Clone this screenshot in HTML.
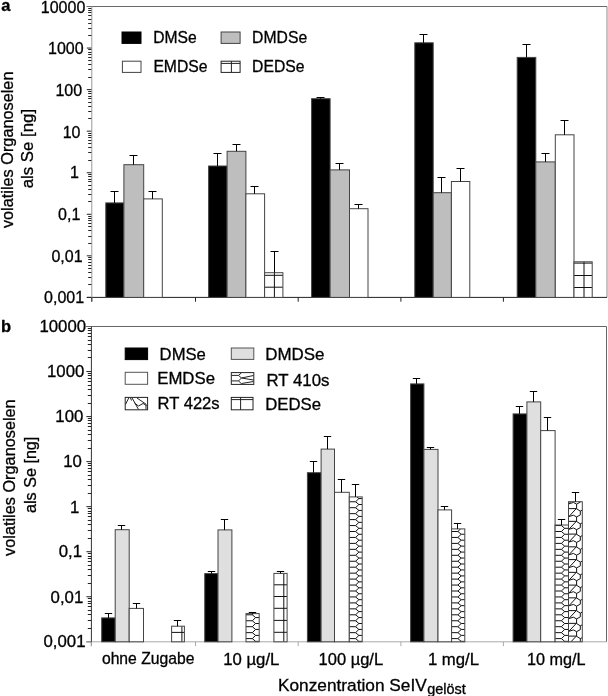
<!DOCTYPE html>
<html><head><meta charset="utf-8"><style>
html,body{margin:0;padding:0;background:#fff;}
body{width:608px;height:696px;overflow:hidden;}
svg{display:block;will-change:transform;font-family:"Liberation Sans", sans-serif;}
</style></head><body>
<svg width="608" height="696" viewBox="0 0 608 696" font-family='"Liberation Sans", sans-serif' fill="#000">

<line x1="88.2" y1="284.5" x2="91.8" y2="284.5" stroke="#222" stroke-width="1" />
<line x1="88.2" y1="277.5" x2="91.8" y2="277.5" stroke="#222" stroke-width="1" />
<line x1="88.2" y1="272.5" x2="91.8" y2="272.5" stroke="#222" stroke-width="1" />
<line x1="88.2" y1="268.5" x2="91.8" y2="268.5" stroke="#222" stroke-width="1" />
<line x1="88.2" y1="265.5" x2="91.8" y2="265.5" stroke="#222" stroke-width="1" />
<line x1="88.2" y1="262.5" x2="91.8" y2="262.5" stroke="#222" stroke-width="1" />
<line x1="88.2" y1="259.5" x2="91.8" y2="259.5" stroke="#222" stroke-width="1" />
<line x1="88.2" y1="257.5" x2="91.8" y2="257.5" stroke="#222" stroke-width="1" />
<line x1="88.2" y1="243.5" x2="91.8" y2="243.5" stroke="#222" stroke-width="1" />
<line x1="88.2" y1="236.5" x2="91.8" y2="236.5" stroke="#222" stroke-width="1" />
<line x1="88.2" y1="230.5" x2="91.8" y2="230.5" stroke="#222" stroke-width="1" />
<line x1="88.2" y1="226.5" x2="91.8" y2="226.5" stroke="#222" stroke-width="1" />
<line x1="88.2" y1="223.5" x2="91.8" y2="223.5" stroke="#222" stroke-width="1" />
<line x1="88.2" y1="220.5" x2="91.8" y2="220.5" stroke="#222" stroke-width="1" />
<line x1="88.2" y1="218.5" x2="91.8" y2="218.5" stroke="#222" stroke-width="1" />
<line x1="88.2" y1="216.5" x2="91.8" y2="216.5" stroke="#222" stroke-width="1" />
<line x1="88.2" y1="201.5" x2="91.8" y2="201.5" stroke="#222" stroke-width="1" />
<line x1="88.2" y1="194.5" x2="91.8" y2="194.5" stroke="#222" stroke-width="1" />
<line x1="88.2" y1="189.5" x2="91.8" y2="189.5" stroke="#222" stroke-width="1" />
<line x1="88.2" y1="185.5" x2="91.8" y2="185.5" stroke="#222" stroke-width="1" />
<line x1="88.2" y1="181.5" x2="91.8" y2="181.5" stroke="#222" stroke-width="1" />
<line x1="88.2" y1="179.5" x2="91.8" y2="179.5" stroke="#222" stroke-width="1" />
<line x1="88.2" y1="176.5" x2="91.8" y2="176.5" stroke="#222" stroke-width="1" />
<line x1="88.2" y1="174.5" x2="91.8" y2="174.5" stroke="#222" stroke-width="1" />
<line x1="88.2" y1="160.5" x2="91.8" y2="160.5" stroke="#222" stroke-width="1" />
<line x1="88.2" y1="152.5" x2="91.8" y2="152.5" stroke="#222" stroke-width="1" />
<line x1="88.2" y1="147.5" x2="91.8" y2="147.5" stroke="#222" stroke-width="1" />
<line x1="88.2" y1="143.5" x2="91.8" y2="143.5" stroke="#222" stroke-width="1" />
<line x1="88.2" y1="140.5" x2="91.8" y2="140.5" stroke="#222" stroke-width="1" />
<line x1="88.2" y1="137.5" x2="91.8" y2="137.5" stroke="#222" stroke-width="1" />
<line x1="88.2" y1="135.5" x2="91.8" y2="135.5" stroke="#222" stroke-width="1" />
<line x1="88.2" y1="133.5" x2="91.8" y2="133.5" stroke="#222" stroke-width="1" />
<line x1="88.2" y1="118.5" x2="91.8" y2="118.5" stroke="#222" stroke-width="1" />
<line x1="88.2" y1="111.5" x2="91.8" y2="111.5" stroke="#222" stroke-width="1" />
<line x1="88.2" y1="106.5" x2="91.8" y2="106.5" stroke="#222" stroke-width="1" />
<line x1="88.2" y1="102.5" x2="91.8" y2="102.5" stroke="#222" stroke-width="1" />
<line x1="88.2" y1="98.5" x2="91.8" y2="98.5" stroke="#222" stroke-width="1" />
<line x1="88.2" y1="96.5" x2="91.8" y2="96.5" stroke="#222" stroke-width="1" />
<line x1="88.2" y1="93.5" x2="91.8" y2="93.5" stroke="#222" stroke-width="1" />
<line x1="88.2" y1="91.5" x2="91.8" y2="91.5" stroke="#222" stroke-width="1" />
<line x1="88.2" y1="77.5" x2="91.8" y2="77.5" stroke="#222" stroke-width="1" />
<line x1="88.2" y1="69.5" x2="91.8" y2="69.5" stroke="#222" stroke-width="1" />
<line x1="88.2" y1="64.5" x2="91.8" y2="64.5" stroke="#222" stroke-width="1" />
<line x1="88.2" y1="60.5" x2="91.8" y2="60.5" stroke="#222" stroke-width="1" />
<line x1="88.2" y1="57.5" x2="91.8" y2="57.5" stroke="#222" stroke-width="1" />
<line x1="88.2" y1="54.5" x2="91.8" y2="54.5" stroke="#222" stroke-width="1" />
<line x1="88.2" y1="52.5" x2="91.8" y2="52.5" stroke="#222" stroke-width="1" />
<line x1="88.2" y1="49.5" x2="91.8" y2="49.5" stroke="#222" stroke-width="1" />
<line x1="88.2" y1="35.5" x2="91.8" y2="35.5" stroke="#222" stroke-width="1" />
<line x1="88.2" y1="28.5" x2="91.8" y2="28.5" stroke="#222" stroke-width="1" />
<line x1="88.2" y1="23.5" x2="91.8" y2="23.5" stroke="#222" stroke-width="1" />
<line x1="88.2" y1="19.5" x2="91.8" y2="19.5" stroke="#222" stroke-width="1" />
<line x1="88.2" y1="15.5" x2="91.8" y2="15.5" stroke="#222" stroke-width="1" />
<line x1="88.2" y1="12.5" x2="91.8" y2="12.5" stroke="#222" stroke-width="1" />
<line x1="88.2" y1="10.5" x2="91.8" y2="10.5" stroke="#222" stroke-width="1" />
<line x1="88.2" y1="8.5" x2="91.8" y2="8.5" stroke="#222" stroke-width="1" />
<line x1="86.8" y1="297.4" x2="91.8" y2="297.4" stroke="#222" stroke-width="1" />
<line x1="86.8" y1="255.84" x2="91.8" y2="255.84" stroke="#222" stroke-width="1" />
<line x1="86.8" y1="214.29" x2="91.8" y2="214.29" stroke="#222" stroke-width="1" />
<line x1="86.8" y1="172.73" x2="91.8" y2="172.73" stroke="#222" stroke-width="1" />
<line x1="86.8" y1="131.17" x2="91.8" y2="131.17" stroke="#222" stroke-width="1" />
<line x1="86.8" y1="89.61" x2="91.8" y2="89.61" stroke="#222" stroke-width="1" />
<line x1="86.8" y1="48.06" x2="91.8" y2="48.06" stroke="#222" stroke-width="1" />
<line x1="86.8" y1="6.5" x2="91.8" y2="6.5" stroke="#222" stroke-width="1" />
<line x1="86.8" y1="6.5" x2="607" y2="6.5" stroke="#6a6a6a" stroke-width="1" />
<line x1="607" y1="6.5" x2="607" y2="297.4" stroke="#8a8a8a" stroke-width="1" />
<line x1="86.8" y1="297.4" x2="607" y2="297.4" stroke="#222" stroke-width="1" />
<line x1="91.8" y1="6.5" x2="91.8" y2="301.7" stroke="#999" stroke-width="1" />
<line x1="91.8" y1="297.4" x2="91.8" y2="301.7" stroke="#222" stroke-width="1" />
<line x1="195.5" y1="297.4" x2="195.5" y2="301.7" stroke="#222" stroke-width="1" />
<line x1="298.2" y1="297.4" x2="298.2" y2="301.7" stroke="#222" stroke-width="1" />
<line x1="400.9" y1="297.4" x2="400.9" y2="301.7" stroke="#222" stroke-width="1" />
<line x1="503.4" y1="297.4" x2="503.4" y2="301.7" stroke="#222" stroke-width="1" />
<rect x="105.8" y="202.9" width="18.1" height="94.5" fill="#000"/>
<rect x="105.8" y="202.9" width="18.1" height="94.5" fill="none" stroke="#444" stroke-width="1"/>
<line x1="114.5" y1="191.5" x2="114.5" y2="202.9" stroke="#000" stroke-width="1" />
<line x1="110.5" y1="191.5" x2="118.5" y2="191.5" stroke="#000" stroke-width="1" />
<rect x="123.9" y="164.7" width="19.8" height="132.7" fill="#bebebe"/>
<rect x="123.9" y="164.7" width="19.8" height="132.7" fill="none" stroke="#444" stroke-width="1"/>
<line x1="133.5" y1="155.5" x2="133.5" y2="164.7" stroke="#000" stroke-width="1" />
<line x1="129.5" y1="155.5" x2="137.5" y2="155.5" stroke="#000" stroke-width="1" />
<rect x="143.7" y="198.9" width="18.6" height="98.5" fill="#fff"/>
<rect x="143.7" y="198.9" width="18.6" height="98.5" fill="none" stroke="#444" stroke-width="1"/>
<line x1="152.5" y1="191.5" x2="152.5" y2="198.9" stroke="#000" stroke-width="1" />
<line x1="148.5" y1="191.5" x2="156.5" y2="191.5" stroke="#000" stroke-width="1" />
<rect x="208.6" y="166" width="18.5" height="131.4" fill="#000"/>
<rect x="208.6" y="166" width="18.5" height="131.4" fill="none" stroke="#444" stroke-width="1"/>
<line x1="217.5" y1="153.5" x2="217.5" y2="166" stroke="#000" stroke-width="1" />
<line x1="213.5" y1="153.5" x2="221.5" y2="153.5" stroke="#000" stroke-width="1" />
<rect x="227.1" y="151.3" width="18.8" height="146.1" fill="#bebebe"/>
<rect x="227.1" y="151.3" width="18.8" height="146.1" fill="none" stroke="#444" stroke-width="1"/>
<line x1="236.5" y1="144.5" x2="236.5" y2="151.3" stroke="#000" stroke-width="1" />
<line x1="232.5" y1="144.5" x2="240.5" y2="144.5" stroke="#000" stroke-width="1" />
<rect x="245.9" y="193.8" width="18.7" height="103.6" fill="#fff"/>
<rect x="245.9" y="193.8" width="18.7" height="103.6" fill="none" stroke="#444" stroke-width="1"/>
<line x1="254.5" y1="186.5" x2="254.5" y2="193.8" stroke="#000" stroke-width="1" />
<line x1="250.5" y1="186.5" x2="258.5" y2="186.5" stroke="#000" stroke-width="1" />
<rect x="264.6" y="272.7" width="18.3" height="24.7" fill="#fff"/>
<clipPath id="c1"><rect x="264.6" y="272.7" width="18.3" height="24.7"/></clipPath>
<path clip-path="url(#c1)" d="M264.6,275.3H282.9M264.6,287.2H282.9M274.4,272.7V297.4" stroke="#111" stroke-width="1" fill="none"/>
<rect x="264.6" y="272.7" width="18.3" height="24.7" fill="none" stroke="#444" stroke-width="1"/>
<line x1="274.5" y1="251.5" x2="274.5" y2="272.7" stroke="#000" stroke-width="1" />
<line x1="270.5" y1="251.5" x2="278.5" y2="251.5" stroke="#000" stroke-width="1" />
<rect x="311.6" y="98.7" width="18.5" height="198.7" fill="#000"/>
<rect x="311.6" y="98.7" width="18.5" height="198.7" fill="none" stroke="#444" stroke-width="1"/>
<line x1="320.5" y1="97.5" x2="320.5" y2="98.7" stroke="#000" stroke-width="1" />
<line x1="316.5" y1="97.5" x2="324.5" y2="97.5" stroke="#000" stroke-width="1" />
<rect x="330.1" y="169.9" width="19.4" height="127.5" fill="#bebebe"/>
<rect x="330.1" y="169.9" width="19.4" height="127.5" fill="none" stroke="#444" stroke-width="1"/>
<line x1="339.5" y1="163.5" x2="339.5" y2="169.9" stroke="#000" stroke-width="1" />
<line x1="335.5" y1="163.5" x2="343.5" y2="163.5" stroke="#000" stroke-width="1" />
<rect x="349.5" y="208.7" width="18.5" height="88.7" fill="#fff"/>
<rect x="349.5" y="208.7" width="18.5" height="88.7" fill="none" stroke="#444" stroke-width="1"/>
<line x1="358.5" y1="204.5" x2="358.5" y2="208.7" stroke="#000" stroke-width="1" />
<line x1="354.5" y1="204.5" x2="362.5" y2="204.5" stroke="#000" stroke-width="1" />
<rect x="414.8" y="42.8" width="18.4" height="254.6" fill="#000"/>
<rect x="414.8" y="42.8" width="18.4" height="254.6" fill="none" stroke="#444" stroke-width="1"/>
<line x1="423.5" y1="34.5" x2="423.5" y2="42.8" stroke="#000" stroke-width="1" />
<line x1="419.5" y1="34.5" x2="427.5" y2="34.5" stroke="#000" stroke-width="1" />
<rect x="433.2" y="192.7" width="18.2" height="104.7" fill="#bebebe"/>
<rect x="433.2" y="192.7" width="18.2" height="104.7" fill="none" stroke="#444" stroke-width="1"/>
<line x1="441.5" y1="177.5" x2="441.5" y2="192.7" stroke="#000" stroke-width="1" />
<line x1="437.5" y1="177.5" x2="445.5" y2="177.5" stroke="#000" stroke-width="1" />
<rect x="451.4" y="181.5" width="18.4" height="115.9" fill="#fff"/>
<rect x="451.4" y="181.5" width="18.4" height="115.9" fill="none" stroke="#444" stroke-width="1"/>
<line x1="460.5" y1="168.5" x2="460.5" y2="181.5" stroke="#000" stroke-width="1" />
<line x1="456.5" y1="168.5" x2="464.5" y2="168.5" stroke="#000" stroke-width="1" />
<rect x="517.2" y="57.4" width="18.6" height="240" fill="#000"/>
<rect x="517.2" y="57.4" width="18.6" height="240" fill="none" stroke="#444" stroke-width="1"/>
<line x1="526.5" y1="44.5" x2="526.5" y2="57.4" stroke="#000" stroke-width="1" />
<line x1="522.5" y1="44.5" x2="530.5" y2="44.5" stroke="#000" stroke-width="1" />
<rect x="535.8" y="161.9" width="19.5" height="135.5" fill="#bebebe"/>
<rect x="535.8" y="161.9" width="19.5" height="135.5" fill="none" stroke="#444" stroke-width="1"/>
<line x1="545.5" y1="153.5" x2="545.5" y2="161.9" stroke="#000" stroke-width="1" />
<line x1="541.5" y1="153.5" x2="549.5" y2="153.5" stroke="#000" stroke-width="1" />
<rect x="555.3" y="134.8" width="18.7" height="162.6" fill="#fff"/>
<rect x="555.3" y="134.8" width="18.7" height="162.6" fill="none" stroke="#444" stroke-width="1"/>
<line x1="564.5" y1="120.5" x2="564.5" y2="134.8" stroke="#000" stroke-width="1" />
<line x1="560.5" y1="120.5" x2="568.5" y2="120.5" stroke="#000" stroke-width="1" />
<rect x="574" y="261.8" width="18.2" height="35.6" fill="#fff"/>
<clipPath id="c2"><rect x="574" y="261.8" width="18.2" height="35.6"/></clipPath>
<path clip-path="url(#c2)" d="M574,263.1H592.2M574,275.5H592.2M574,287.5H592.2M584,261.8V297.4" stroke="#111" stroke-width="1" fill="none"/>
<rect x="574" y="261.8" width="18.2" height="35.6" fill="none" stroke="#444" stroke-width="1"/>
<rect x="122" y="32" width="19" height="11.4" fill="#000" stroke="#000" stroke-width="1"/>
<rect x="221.1" y="32" width="19" height="11.4" fill="#bebebe" stroke="#444" stroke-width="1"/>
<rect x="122.4" y="61.2" width="18.6" height="11.2" fill="#fff" stroke="#444" stroke-width="1"/>
<rect x="221.1" y="61.2" width="19" height="11.2" fill="#fff" stroke="#222" stroke-width="1"/>
<line x1="231.4" y1="61.2" x2="231.4" y2="72.4" stroke="#222" stroke-width="1" />
<line x1="221.1" y1="63.4" x2="240.1" y2="63.4" stroke="#222" stroke-width="1" />
<line x1="87.8" y1="628.5" x2="91.4" y2="628.5" stroke="#222" stroke-width="1" />
<line x1="87.8" y1="620.5" x2="91.4" y2="620.5" stroke="#222" stroke-width="1" />
<line x1="87.8" y1="614.5" x2="91.4" y2="614.5" stroke="#222" stroke-width="1" />
<line x1="87.8" y1="610.5" x2="91.4" y2="610.5" stroke="#222" stroke-width="1" />
<line x1="87.8" y1="606.5" x2="91.4" y2="606.5" stroke="#222" stroke-width="1" />
<line x1="87.8" y1="603.5" x2="91.4" y2="603.5" stroke="#222" stroke-width="1" />
<line x1="87.8" y1="601.5" x2="91.4" y2="601.5" stroke="#222" stroke-width="1" />
<line x1="87.8" y1="598.5" x2="91.4" y2="598.5" stroke="#222" stroke-width="1" />
<line x1="87.8" y1="583.5" x2="91.4" y2="583.5" stroke="#222" stroke-width="1" />
<line x1="87.8" y1="575.5" x2="91.4" y2="575.5" stroke="#222" stroke-width="1" />
<line x1="87.8" y1="569.5" x2="91.4" y2="569.5" stroke="#222" stroke-width="1" />
<line x1="87.8" y1="565.5" x2="91.4" y2="565.5" stroke="#222" stroke-width="1" />
<line x1="87.8" y1="561.5" x2="91.4" y2="561.5" stroke="#222" stroke-width="1" />
<line x1="87.8" y1="558.5" x2="91.4" y2="558.5" stroke="#222" stroke-width="1" />
<line x1="87.8" y1="556.5" x2="91.4" y2="556.5" stroke="#222" stroke-width="1" />
<line x1="87.8" y1="553.5" x2="91.4" y2="553.5" stroke="#222" stroke-width="1" />
<line x1="87.8" y1="538.5" x2="91.4" y2="538.5" stroke="#222" stroke-width="1" />
<line x1="87.8" y1="530.5" x2="91.4" y2="530.5" stroke="#222" stroke-width="1" />
<line x1="87.8" y1="524.5" x2="91.4" y2="524.5" stroke="#222" stroke-width="1" />
<line x1="87.8" y1="520.5" x2="91.4" y2="520.5" stroke="#222" stroke-width="1" />
<line x1="87.8" y1="516.5" x2="91.4" y2="516.5" stroke="#222" stroke-width="1" />
<line x1="87.8" y1="513.5" x2="91.4" y2="513.5" stroke="#222" stroke-width="1" />
<line x1="87.8" y1="511.5" x2="91.4" y2="511.5" stroke="#222" stroke-width="1" />
<line x1="87.8" y1="508.5" x2="91.4" y2="508.5" stroke="#222" stroke-width="1" />
<line x1="87.8" y1="493.5" x2="91.4" y2="493.5" stroke="#222" stroke-width="1" />
<line x1="87.8" y1="485.5" x2="91.4" y2="485.5" stroke="#222" stroke-width="1" />
<line x1="87.8" y1="479.5" x2="91.4" y2="479.5" stroke="#222" stroke-width="1" />
<line x1="87.8" y1="475.5" x2="91.4" y2="475.5" stroke="#222" stroke-width="1" />
<line x1="87.8" y1="471.5" x2="91.4" y2="471.5" stroke="#222" stroke-width="1" />
<line x1="87.8" y1="468.5" x2="91.4" y2="468.5" stroke="#222" stroke-width="1" />
<line x1="87.8" y1="465.5" x2="91.4" y2="465.5" stroke="#222" stroke-width="1" />
<line x1="87.8" y1="463.5" x2="91.4" y2="463.5" stroke="#222" stroke-width="1" />
<line x1="87.8" y1="448.5" x2="91.4" y2="448.5" stroke="#222" stroke-width="1" />
<line x1="87.8" y1="440.5" x2="91.4" y2="440.5" stroke="#222" stroke-width="1" />
<line x1="87.8" y1="434.5" x2="91.4" y2="434.5" stroke="#222" stroke-width="1" />
<line x1="87.8" y1="430.5" x2="91.4" y2="430.5" stroke="#222" stroke-width="1" />
<line x1="87.8" y1="426.5" x2="91.4" y2="426.5" stroke="#222" stroke-width="1" />
<line x1="87.8" y1="423.5" x2="91.4" y2="423.5" stroke="#222" stroke-width="1" />
<line x1="87.8" y1="420.5" x2="91.4" y2="420.5" stroke="#222" stroke-width="1" />
<line x1="87.8" y1="418.5" x2="91.4" y2="418.5" stroke="#222" stroke-width="1" />
<line x1="87.8" y1="403.5" x2="91.4" y2="403.5" stroke="#222" stroke-width="1" />
<line x1="87.8" y1="395.5" x2="91.4" y2="395.5" stroke="#222" stroke-width="1" />
<line x1="87.8" y1="389.5" x2="91.4" y2="389.5" stroke="#222" stroke-width="1" />
<line x1="87.8" y1="385.5" x2="91.4" y2="385.5" stroke="#222" stroke-width="1" />
<line x1="87.8" y1="381.5" x2="91.4" y2="381.5" stroke="#222" stroke-width="1" />
<line x1="87.8" y1="378.5" x2="91.4" y2="378.5" stroke="#222" stroke-width="1" />
<line x1="87.8" y1="375.5" x2="91.4" y2="375.5" stroke="#222" stroke-width="1" />
<line x1="87.8" y1="373.5" x2="91.4" y2="373.5" stroke="#222" stroke-width="1" />
<line x1="87.8" y1="357.5" x2="91.4" y2="357.5" stroke="#222" stroke-width="1" />
<line x1="87.8" y1="350.5" x2="91.4" y2="350.5" stroke="#222" stroke-width="1" />
<line x1="87.8" y1="344.5" x2="91.4" y2="344.5" stroke="#222" stroke-width="1" />
<line x1="87.8" y1="340.5" x2="91.4" y2="340.5" stroke="#222" stroke-width="1" />
<line x1="87.8" y1="336.5" x2="91.4" y2="336.5" stroke="#222" stroke-width="1" />
<line x1="87.8" y1="333.5" x2="91.4" y2="333.5" stroke="#222" stroke-width="1" />
<line x1="87.8" y1="330.5" x2="91.4" y2="330.5" stroke="#222" stroke-width="1" />
<line x1="87.8" y1="328.5" x2="91.4" y2="328.5" stroke="#222" stroke-width="1" />
<line x1="86.4" y1="641.8" x2="91.4" y2="641.8" stroke="#222" stroke-width="1" />
<line x1="86.4" y1="596.76" x2="91.4" y2="596.76" stroke="#222" stroke-width="1" />
<line x1="86.4" y1="551.71" x2="91.4" y2="551.71" stroke="#222" stroke-width="1" />
<line x1="86.4" y1="506.67" x2="91.4" y2="506.67" stroke="#222" stroke-width="1" />
<line x1="86.4" y1="461.63" x2="91.4" y2="461.63" stroke="#222" stroke-width="1" />
<line x1="86.4" y1="416.59" x2="91.4" y2="416.59" stroke="#222" stroke-width="1" />
<line x1="86.4" y1="371.54" x2="91.4" y2="371.54" stroke="#222" stroke-width="1" />
<line x1="86.4" y1="326.5" x2="91.4" y2="326.5" stroke="#222" stroke-width="1" />
<line x1="86.4" y1="326.5" x2="606.5" y2="326.5" stroke="#666" stroke-width="1" />
<line x1="606.5" y1="326.5" x2="606.5" y2="641.8" stroke="#666" stroke-width="1" />
<line x1="86.4" y1="641.8" x2="606.5" y2="641.8" stroke="#aaa" stroke-width="1" />
<line x1="91.4" y1="326.5" x2="91.4" y2="646.1" stroke="#333" stroke-width="1" />
<line x1="91.4" y1="641.8" x2="91.4" y2="646.1" stroke="#aaa" stroke-width="1" />
<line x1="195.5" y1="641.8" x2="195.5" y2="646.1" stroke="#aaa" stroke-width="1" />
<line x1="298.2" y1="641.8" x2="298.2" y2="646.1" stroke="#aaa" stroke-width="1" />
<line x1="400.9" y1="641.8" x2="400.9" y2="646.1" stroke="#aaa" stroke-width="1" />
<line x1="503.4" y1="641.8" x2="503.4" y2="646.1" stroke="#aaa" stroke-width="1" />
<rect x="101.7" y="617.9" width="13.5" height="23.9" fill="#000"/>
<rect x="101.7" y="617.9" width="13.5" height="23.9" fill="none" stroke="#444" stroke-width="1"/>
<line x1="108.5" y1="613.5" x2="108.5" y2="617.9" stroke="#000" stroke-width="1" />
<line x1="104.8" y1="613.5" x2="112.2" y2="613.5" stroke="#000" stroke-width="1" />
<rect x="115.2" y="529.7" width="14" height="112.1" fill="#dfdfdf"/>
<rect x="115.2" y="529.7" width="14" height="112.1" fill="none" stroke="#444" stroke-width="1"/>
<line x1="121.5" y1="525.5" x2="121.5" y2="529.7" stroke="#000" stroke-width="1" />
<line x1="117.8" y1="525.5" x2="125.2" y2="525.5" stroke="#000" stroke-width="1" />
<rect x="129.2" y="608.4" width="14.3" height="33.4" fill="#fff"/>
<rect x="129.2" y="608.4" width="14.3" height="33.4" fill="none" stroke="#444" stroke-width="1"/>
<line x1="136.5" y1="603.5" x2="136.5" y2="608.4" stroke="#000" stroke-width="1" />
<line x1="132.8" y1="603.5" x2="140.2" y2="603.5" stroke="#000" stroke-width="1" />
<rect x="171.6" y="626.2" width="12.8" height="15.6" fill="#fff"/>
<clipPath id="c3"><rect x="171.6" y="626.2" width="12.8" height="15.6"/></clipPath>
<path clip-path="url(#c3)" d="M171.6,632.4H184.4M181.9,626.2V641.8" stroke="#111" stroke-width="1" fill="none"/>
<rect x="171.6" y="626.2" width="12.8" height="15.6" fill="none" stroke="#444" stroke-width="1"/>
<line x1="177.5" y1="620.5" x2="177.5" y2="626.2" stroke="#000" stroke-width="1" />
<line x1="173.8" y1="620.5" x2="181.2" y2="620.5" stroke="#000" stroke-width="1" />
<rect x="204.75" y="573.6" width="13.25" height="68.2" fill="#000"/>
<rect x="204.75" y="573.6" width="13.25" height="68.2" fill="none" stroke="#444" stroke-width="1"/>
<line x1="211.5" y1="571.5" x2="211.5" y2="573.6" stroke="#000" stroke-width="1" />
<line x1="207.8" y1="571.5" x2="215.2" y2="571.5" stroke="#000" stroke-width="1" />
<rect x="218" y="529.9" width="13.9" height="111.9" fill="#dfdfdf"/>
<rect x="218" y="529.9" width="13.9" height="111.9" fill="none" stroke="#444" stroke-width="1"/>
<line x1="224.5" y1="519.5" x2="224.5" y2="529.9" stroke="#000" stroke-width="1" />
<line x1="220.8" y1="519.5" x2="228.2" y2="519.5" stroke="#000" stroke-width="1" />
<rect x="246" y="613.6" width="13.2" height="28.2" fill="#fff"/>
<clipPath id="c4"><rect x="246" y="613.6" width="13.2" height="28.2"/></clipPath>
<path clip-path="url(#c4)" d="M252.3,602.9L255.6,605.65L252.3,608.85L255.6,611.6L252.3,614.8L255.6,617.55L252.3,620.75L255.6,623.5L252.3,626.7L255.6,629.45L252.3,632.65L255.6,635.4L252.3,638.6L255.6,641.35L252.3,644.55L255.6,647.3L252.3,650.5L255.6,653.25M246,602.9H252.3M255.6,605.65H259.2M246,608.85H252.3M255.6,611.6H259.2M246,614.8H252.3M255.6,617.55H259.2M246,620.75H252.3M255.6,623.5H259.2M246,626.7H252.3M255.6,629.45H259.2M246,632.65H252.3M255.6,635.4H259.2M246,638.6H252.3M255.6,641.35H259.2M246,644.55H252.3M255.6,647.3H259.2M246,650.5H252.3M255.6,653.25H259.2" stroke="#111" stroke-width="1" fill="none"/>
<rect x="246" y="613.6" width="13.2" height="28.2" fill="none" stroke="#444" stroke-width="1"/>
<line x1="252.5" y1="612.5" x2="252.5" y2="613.6" stroke="#000" stroke-width="1" />
<line x1="248.8" y1="612.5" x2="256.2" y2="612.5" stroke="#000" stroke-width="1" />
<rect x="273.9" y="573.4" width="13.2" height="68.4" fill="#fff"/>
<clipPath id="c5"><rect x="273.9" y="573.4" width="13.2" height="68.4"/></clipPath>
<path clip-path="url(#c5)" d="M273.9,584.8H287.1M273.9,596.5H287.1M273.9,608.3H287.1M273.9,620.4H287.1M273.9,632.3H287.1M283.8,573.4V641.8" stroke="#111" stroke-width="1" fill="none"/>
<rect x="273.9" y="573.4" width="13.2" height="68.4" fill="none" stroke="#444" stroke-width="1"/>
<line x1="280.5" y1="571.5" x2="280.5" y2="573.4" stroke="#000" stroke-width="1" />
<line x1="276.8" y1="571.5" x2="284.2" y2="571.5" stroke="#000" stroke-width="1" />
<rect x="307.4" y="472.7" width="13.7" height="169.1" fill="#000"/>
<rect x="307.4" y="472.7" width="13.7" height="169.1" fill="none" stroke="#444" stroke-width="1"/>
<line x1="313.5" y1="461.5" x2="313.5" y2="472.7" stroke="#000" stroke-width="1" />
<line x1="309.8" y1="461.5" x2="317.2" y2="461.5" stroke="#000" stroke-width="1" />
<rect x="321.1" y="449.1" width="13.4" height="192.7" fill="#dfdfdf"/>
<rect x="321.1" y="449.1" width="13.4" height="192.7" fill="none" stroke="#444" stroke-width="1"/>
<line x1="327.5" y1="436.5" x2="327.5" y2="449.1" stroke="#000" stroke-width="1" />
<line x1="323.8" y1="436.5" x2="331.2" y2="436.5" stroke="#000" stroke-width="1" />
<rect x="334.5" y="492.3" width="14.8" height="149.5" fill="#fff"/>
<rect x="334.5" y="492.3" width="14.8" height="149.5" fill="none" stroke="#444" stroke-width="1"/>
<line x1="341.5" y1="479.5" x2="341.5" y2="492.3" stroke="#000" stroke-width="1" />
<line x1="337.8" y1="479.5" x2="345.2" y2="479.5" stroke="#000" stroke-width="1" />
<rect x="349.3" y="496.9" width="12.9" height="144.9" fill="#fff"/>
<clipPath id="c6"><rect x="349.3" y="496.9" width="12.9" height="144.9"/></clipPath>
<path clip-path="url(#c6)" d="M355.6,489.85L358.9,492.6L355.6,495.8L358.9,498.55L355.6,501.75L358.9,504.5L355.6,507.7L358.9,510.45L355.6,513.65L358.9,516.4L355.6,519.6L358.9,522.35L355.6,525.55L358.9,528.3L355.6,531.5L358.9,534.25L355.6,537.45L358.9,540.2L355.6,543.4L358.9,546.15L355.6,549.35L358.9,552.1L355.6,555.3L358.9,558.05L355.6,561.25L358.9,564L355.6,567.2L358.9,569.95L355.6,573.15L358.9,575.9L355.6,579.1L358.9,581.85L355.6,585.05L358.9,587.8L355.6,591L358.9,593.75L355.6,596.95L358.9,599.7L355.6,602.9L358.9,605.65L355.6,608.85L358.9,611.6L355.6,614.8L358.9,617.55L355.6,620.75L358.9,623.5L355.6,626.7L358.9,629.45L355.6,632.65L358.9,635.4L355.6,638.6L358.9,641.35L355.6,644.55L358.9,647.3L355.6,650.5L358.9,653.25M349.3,489.85H355.6M358.9,492.6H362.2M349.3,495.8H355.6M358.9,498.55H362.2M349.3,501.75H355.6M358.9,504.5H362.2M349.3,507.7H355.6M358.9,510.45H362.2M349.3,513.65H355.6M358.9,516.4H362.2M349.3,519.6H355.6M358.9,522.35H362.2M349.3,525.55H355.6M358.9,528.3H362.2M349.3,531.5H355.6M358.9,534.25H362.2M349.3,537.45H355.6M358.9,540.2H362.2M349.3,543.4H355.6M358.9,546.15H362.2M349.3,549.35H355.6M358.9,552.1H362.2M349.3,555.3H355.6M358.9,558.05H362.2M349.3,561.25H355.6M358.9,564H362.2M349.3,567.2H355.6M358.9,569.95H362.2M349.3,573.15H355.6M358.9,575.9H362.2M349.3,579.1H355.6M358.9,581.85H362.2M349.3,585.05H355.6M358.9,587.8H362.2M349.3,591H355.6M358.9,593.75H362.2M349.3,596.95H355.6M358.9,599.7H362.2M349.3,602.9H355.6M358.9,605.65H362.2M349.3,608.85H355.6M358.9,611.6H362.2M349.3,614.8H355.6M358.9,617.55H362.2M349.3,620.75H355.6M358.9,623.5H362.2M349.3,626.7H355.6M358.9,629.45H362.2M349.3,632.65H355.6M358.9,635.4H362.2M349.3,638.6H355.6M358.9,641.35H362.2M349.3,644.55H355.6M358.9,647.3H362.2M349.3,650.5H355.6M358.9,653.25H362.2" stroke="#111" stroke-width="1" fill="none"/>
<rect x="349.3" y="496.9" width="12.9" height="144.9" fill="none" stroke="#444" stroke-width="1"/>
<line x1="355.5" y1="484.5" x2="355.5" y2="496.9" stroke="#000" stroke-width="1" />
<line x1="351.8" y1="484.5" x2="359.2" y2="484.5" stroke="#000" stroke-width="1" />
<rect x="410.6" y="383.9" width="13.3" height="257.9" fill="#000"/>
<rect x="410.6" y="383.9" width="13.3" height="257.9" fill="none" stroke="#444" stroke-width="1"/>
<line x1="416.5" y1="378.5" x2="416.5" y2="383.9" stroke="#000" stroke-width="1" />
<line x1="412.8" y1="378.5" x2="420.2" y2="378.5" stroke="#000" stroke-width="1" />
<rect x="423.9" y="449.4" width="14.1" height="192.4" fill="#dfdfdf"/>
<rect x="423.9" y="449.4" width="14.1" height="192.4" fill="none" stroke="#444" stroke-width="1"/>
<line x1="430.5" y1="447.5" x2="430.5" y2="449.4" stroke="#000" stroke-width="1" />
<line x1="426.8" y1="447.5" x2="434.2" y2="447.5" stroke="#000" stroke-width="1" />
<rect x="438" y="509.9" width="13.6" height="131.9" fill="#fff"/>
<rect x="438" y="509.9" width="13.6" height="131.9" fill="none" stroke="#444" stroke-width="1"/>
<line x1="444.5" y1="506.5" x2="444.5" y2="509.9" stroke="#000" stroke-width="1" />
<line x1="440.8" y1="506.5" x2="448.2" y2="506.5" stroke="#000" stroke-width="1" />
<rect x="451.6" y="528.9" width="13.2" height="112.9" fill="#fff"/>
<clipPath id="c7"><rect x="451.6" y="528.9" width="13.2" height="112.9"/></clipPath>
<path clip-path="url(#c7)" d="M457.9,519.6L461.2,522.35L457.9,525.55L461.2,528.3L457.9,531.5L461.2,534.25L457.9,537.45L461.2,540.2L457.9,543.4L461.2,546.15L457.9,549.35L461.2,552.1L457.9,555.3L461.2,558.05L457.9,561.25L461.2,564L457.9,567.2L461.2,569.95L457.9,573.15L461.2,575.9L457.9,579.1L461.2,581.85L457.9,585.05L461.2,587.8L457.9,591L461.2,593.75L457.9,596.95L461.2,599.7L457.9,602.9L461.2,605.65L457.9,608.85L461.2,611.6L457.9,614.8L461.2,617.55L457.9,620.75L461.2,623.5L457.9,626.7L461.2,629.45L457.9,632.65L461.2,635.4L457.9,638.6L461.2,641.35L457.9,644.55L461.2,647.3L457.9,650.5L461.2,653.25M451.6,519.6H457.9M461.2,522.35H464.8M451.6,525.55H457.9M461.2,528.3H464.8M451.6,531.5H457.9M461.2,534.25H464.8M451.6,537.45H457.9M461.2,540.2H464.8M451.6,543.4H457.9M461.2,546.15H464.8M451.6,549.35H457.9M461.2,552.1H464.8M451.6,555.3H457.9M461.2,558.05H464.8M451.6,561.25H457.9M461.2,564H464.8M451.6,567.2H457.9M461.2,569.95H464.8M451.6,573.15H457.9M461.2,575.9H464.8M451.6,579.1H457.9M461.2,581.85H464.8M451.6,585.05H457.9M461.2,587.8H464.8M451.6,591H457.9M461.2,593.75H464.8M451.6,596.95H457.9M461.2,599.7H464.8M451.6,602.9H457.9M461.2,605.65H464.8M451.6,608.85H457.9M461.2,611.6H464.8M451.6,614.8H457.9M461.2,617.55H464.8M451.6,620.75H457.9M461.2,623.5H464.8M451.6,626.7H457.9M461.2,629.45H464.8M451.6,632.65H457.9M461.2,635.4H464.8M451.6,638.6H457.9M461.2,641.35H464.8M451.6,644.55H457.9M461.2,647.3H464.8M451.6,650.5H457.9M461.2,653.25H464.8" stroke="#111" stroke-width="1" fill="none"/>
<rect x="451.6" y="528.9" width="13.2" height="112.9" fill="none" stroke="#444" stroke-width="1"/>
<line x1="457.5" y1="523.5" x2="457.5" y2="528.9" stroke="#000" stroke-width="1" />
<line x1="453.8" y1="523.5" x2="461.2" y2="523.5" stroke="#000" stroke-width="1" />
<rect x="513.1" y="413.9" width="13.8" height="227.9" fill="#000"/>
<rect x="513.1" y="413.9" width="13.8" height="227.9" fill="none" stroke="#444" stroke-width="1"/>
<line x1="519.5" y1="406.5" x2="519.5" y2="413.9" stroke="#000" stroke-width="1" />
<line x1="515.8" y1="406.5" x2="523.2" y2="406.5" stroke="#000" stroke-width="1" />
<rect x="526.9" y="401.9" width="13.8" height="239.9" fill="#dfdfdf"/>
<rect x="526.9" y="401.9" width="13.8" height="239.9" fill="none" stroke="#444" stroke-width="1"/>
<line x1="533.5" y1="391.5" x2="533.5" y2="401.9" stroke="#000" stroke-width="1" />
<line x1="529.8" y1="391.5" x2="537.2" y2="391.5" stroke="#000" stroke-width="1" />
<rect x="540.7" y="430.6" width="14.4" height="211.2" fill="#fff"/>
<rect x="540.7" y="430.6" width="14.4" height="211.2" fill="none" stroke="#444" stroke-width="1"/>
<line x1="547.5" y1="417.5" x2="547.5" y2="430.6" stroke="#000" stroke-width="1" />
<line x1="543.8" y1="417.5" x2="551.2" y2="417.5" stroke="#000" stroke-width="1" />
<rect x="555.1" y="525" width="13.4" height="116.8" fill="#fff"/>
<clipPath id="c8"><rect x="555.1" y="525" width="13.4" height="116.8"/></clipPath>
<path clip-path="url(#c8)" d="M561.4,513.65L564.7,516.4L561.4,519.6L564.7,522.35L561.4,525.55L564.7,528.3L561.4,531.5L564.7,534.25L561.4,537.45L564.7,540.2L561.4,543.4L564.7,546.15L561.4,549.35L564.7,552.1L561.4,555.3L564.7,558.05L561.4,561.25L564.7,564L561.4,567.2L564.7,569.95L561.4,573.15L564.7,575.9L561.4,579.1L564.7,581.85L561.4,585.05L564.7,587.8L561.4,591L564.7,593.75L561.4,596.95L564.7,599.7L561.4,602.9L564.7,605.65L561.4,608.85L564.7,611.6L561.4,614.8L564.7,617.55L561.4,620.75L564.7,623.5L561.4,626.7L564.7,629.45L561.4,632.65L564.7,635.4L561.4,638.6L564.7,641.35L561.4,644.55L564.7,647.3L561.4,650.5L564.7,653.25M555.1,513.65H561.4M564.7,516.4H568.5M555.1,519.6H561.4M564.7,522.35H568.5M555.1,525.55H561.4M564.7,528.3H568.5M555.1,531.5H561.4M564.7,534.25H568.5M555.1,537.45H561.4M564.7,540.2H568.5M555.1,543.4H561.4M564.7,546.15H568.5M555.1,549.35H561.4M564.7,552.1H568.5M555.1,555.3H561.4M564.7,558.05H568.5M555.1,561.25H561.4M564.7,564H568.5M555.1,567.2H561.4M564.7,569.95H568.5M555.1,573.15H561.4M564.7,575.9H568.5M555.1,579.1H561.4M564.7,581.85H568.5M555.1,585.05H561.4M564.7,587.8H568.5M555.1,591H561.4M564.7,593.75H568.5M555.1,596.95H561.4M564.7,599.7H568.5M555.1,602.9H561.4M564.7,605.65H568.5M555.1,608.85H561.4M564.7,611.6H568.5M555.1,614.8H561.4M564.7,617.55H568.5M555.1,620.75H561.4M564.7,623.5H568.5M555.1,626.7H561.4M564.7,629.45H568.5M555.1,632.65H561.4M564.7,635.4H568.5M555.1,638.6H561.4M564.7,641.35H568.5M555.1,644.55H561.4M564.7,647.3H568.5M555.1,650.5H561.4M564.7,653.25H568.5" stroke="#111" stroke-width="1" fill="none"/>
<rect x="555.1" y="525" width="13.4" height="116.8" fill="none" stroke="#444" stroke-width="1"/>
<line x1="561.5" y1="519.5" x2="561.5" y2="525" stroke="#000" stroke-width="1" />
<line x1="557.8" y1="519.5" x2="565.2" y2="519.5" stroke="#000" stroke-width="1" />
<rect x="568.5" y="501.7" width="13.8" height="140.1" fill="#fff"/>
<clipPath id="c9"><rect x="568.5" y="501.7" width="13.8" height="140.1"/></clipPath>
<path clip-path="url(#c9)" d="M568.5,483.1H576.3L580.3,485.6L582.7,484.4M580.3,485.6L580.3,489.4L576.6,491.4L573.4,489.7L568.8,491.1M576.3,483.1L568.8,491.1M576.6,491.4L576.6,495.85M568.5,495.85H576.3L580.3,498.35L582.7,497.15M580.3,498.35L580.3,502.15L576.6,504.15L573.4,502.45L568.8,503.85M576.3,495.85L568.8,503.85M576.6,504.15L576.6,508.6M568.5,508.6H576.3L580.3,511.1L582.7,509.9M580.3,511.1L580.3,514.9L576.6,516.9L573.4,515.2L568.8,516.6M576.3,508.6L568.8,516.6M576.6,516.9L576.6,521.35M568.5,521.35H576.3L580.3,523.85L582.7,522.65M580.3,523.85L580.3,527.65L576.6,529.65L573.4,527.95L568.8,529.35M576.3,521.35L568.8,529.35M576.6,529.65L576.6,534.1M568.5,534.1H576.3L580.3,536.6L582.7,535.4M580.3,536.6L580.3,540.4L576.6,542.4L573.4,540.7L568.8,542.1M576.3,534.1L568.8,542.1M576.6,542.4L576.6,546.85M568.5,546.85H576.3L580.3,549.35L582.7,548.15M580.3,549.35L580.3,553.15L576.6,555.15L573.4,553.45L568.8,554.85M576.3,546.85L568.8,554.85M576.6,555.15L576.6,559.6M568.5,559.6H576.3L580.3,562.1L582.7,560.9M580.3,562.1L580.3,565.9L576.6,567.9L573.4,566.2L568.8,567.6M576.3,559.6L568.8,567.6M576.6,567.9L576.6,572.35M568.5,572.35H576.3L580.3,574.85L582.7,573.65M580.3,574.85L580.3,578.65L576.6,580.65L573.4,578.95L568.8,580.35M576.3,572.35L568.8,580.35M576.6,580.65L576.6,585.1M568.5,585.1H576.3L580.3,587.6L582.7,586.4M580.3,587.6L580.3,591.4L576.6,593.4L573.4,591.7L568.8,593.1M576.3,585.1L568.8,593.1M576.6,593.4L576.6,597.85M568.5,597.85H576.3L580.3,600.35L582.7,599.15M580.3,600.35L580.3,604.15L576.6,606.15L573.4,604.45L568.8,605.85M576.3,597.85L568.8,605.85M576.6,606.15L576.6,610.6M568.5,610.6H576.3L580.3,613.1L582.7,611.9M580.3,613.1L580.3,616.9L576.6,618.9L573.4,617.2L568.8,618.6M576.3,610.6L568.8,618.6M576.6,618.9L576.6,623.35M568.5,623.35H576.3L580.3,625.85L582.7,624.65M580.3,625.85L580.3,629.65L576.6,631.65L573.4,629.95L568.8,631.35M576.3,623.35L568.8,631.35M576.6,631.65L576.6,636.1M568.5,636.1H576.3L580.3,638.6L582.7,637.4M580.3,638.6L580.3,642.4L576.6,644.4L573.4,642.7L568.8,644.1M576.3,636.1L568.8,644.1M576.6,644.4L576.6,648.85M568.5,648.85H576.3L580.3,651.35L582.7,650.15M580.3,651.35L580.3,655.15L576.6,657.15L573.4,655.45L568.8,656.85M576.3,648.85L568.8,656.85M576.6,657.15L576.6,661.6M568.5,661.6H576.3L580.3,664.1L582.7,662.9M580.3,664.1L580.3,667.9L576.6,669.9L573.4,668.2L568.8,669.6M576.3,661.6L568.8,669.6M576.6,669.9L576.6,674.35" stroke="#111" stroke-width="1" fill="none"/>
<rect x="568.5" y="501.7" width="13.8" height="140.1" fill="none" stroke="#444" stroke-width="1"/>
<line x1="575.5" y1="492.5" x2="575.5" y2="501.7" stroke="#000" stroke-width="1" />
<line x1="571.8" y1="492.5" x2="579.2" y2="492.5" stroke="#000" stroke-width="1" />
<rect x="125.2" y="348" width="22.4" height="11.6" fill="#000" stroke="#000" stroke-width="1"/>
<rect x="231.3" y="348" width="22.5" height="11.4" fill="#dfdfdf" stroke="#555" stroke-width="1"/>
<rect x="125.2" y="372.3" width="22.4" height="12" fill="#fff" stroke="#555" stroke-width="1"/>
<rect x="231.3" y="372.6" width="22.5" height="11.8" fill="#fff" stroke="#222" stroke-width="1"/>
<rect x="125.2" y="397.4" width="22.4" height="12.4" fill="#fff" stroke="#222" stroke-width="1"/>
<rect x="231.3" y="397.4" width="21.7" height="12.4" fill="#fff" stroke="#222" stroke-width="1"/>
<line x1="240.6" y1="397.4" x2="240.6" y2="409.8" stroke="#222" stroke-width="1" />
<line x1="231.3" y1="399.6" x2="253" y2="399.6" stroke="#222" stroke-width="1" />
<path d="M231.5,375.4H238.5L241.5,378L238.5,380.9L241.5,383.8M231.5,380.9H238.5M238.5,375.4L241.5,372.8M241.5,378L253.5,375.5M241.5,378L253.5,380M241.5,383.5L253.5,381.5" stroke="#222" stroke-width="1" fill="none"/>
<path d="M125.5,404.5L128.8,397.8M130.5,398L131.5,400.5M132,397.8L138.5,409.5M137,398L146.5,404.5M134.5,403L138.5,406L143,403.5L146.5,405.5M146,405V409.5" stroke="#222" stroke-width="1" fill="none"/>
<g stroke="#000" stroke-width="0.3">
<text transform="translate(40.8,12.57)" font-size="16">10000</text>
<text transform="translate(48,53.73)" font-size="16">1000</text>
<text transform="translate(55.4,95.93)" font-size="16">100</text>
<text transform="translate(62.7,137.69)" font-size="16">10</text>
<text transform="translate(70.1,178.45)" font-size="16">1</text>
<text transform="translate(58.1,220.36)" font-size="16">0,1</text>
<text transform="translate(51.4,262.36)" font-size="16">0,01</text>
<text transform="translate(44.1,303.37)" font-size="16">0,001</text>
<text transform="translate(39.4,331.99) scale(1.0500,1)" font-size="16">10000</text>
<text transform="translate(47,377.03) scale(1.0500,1)" font-size="16">1000</text>
<text transform="translate(55.3,421.88) scale(1.0500,1)" font-size="16">100</text>
<text transform="translate(63.2,466.72) scale(1.0500,1)" font-size="16">10</text>
<text transform="translate(70.1,512.81) scale(1.0500,1)" font-size="16">1</text>
<text transform="translate(58.7,557.15) scale(1.0500,1)" font-size="16">0,1</text>
<text transform="translate(50.6,603.1) scale(1.0500,1)" font-size="16">0,01</text>
<text transform="translate(43.5,647.14) scale(1.0500,1)" font-size="16">0,001</text>
<text transform="translate(153.2,43.42)" font-size="15.65">DMSe</text>
<text transform="translate(252.1,43.42)" font-size="15.72">DMDSe</text>
<text transform="translate(153.4,72.42)" font-size="15.71">EMDSe</text>
<text transform="translate(252.1,72.42)" font-size="15.71">DEDSe</text>
<text transform="translate(159.6,359.62) scale(1.0287,1)" font-size="16.2">DMSe</text>
<text transform="translate(265.2,359.92) scale(1.0459,1)" font-size="16.2">DMDSe</text>
<text transform="translate(157.2,383.62) scale(1.0356,1)" font-size="16.2">EMDSe</text>
<text transform="translate(266.5,385.62) scale(1.0380,1)" font-size="16.2">RT 410s</text>
<text transform="translate(157.6,409.22) scale(1.0229,1)" font-size="16.2">RT 422s</text>
<text transform="translate(265.2,409.92) scale(1.0332,1)" font-size="16.2">DEDSe</text>
<text transform="translate(101.9,663.92) scale(0.9938,1)" font-size="15.8">ohne Zugabe</text>
<text transform="translate(223.2,665.08) scale(1.0601,1)" font-size="15.8">10 µg/L</text>
<text transform="translate(318.6,665.08) scale(1.0442,1)" font-size="15.8">100 µg/L</text>
<text transform="translate(427.9,665.28) scale(1.0581,1)" font-size="15.8">1 mg/L</text>
<text transform="translate(526.9,665.08) scale(1.0273,1)" font-size="15.8">10 mg/L</text>
<text transform="translate(278,690.94) scale(1.0214,1)" font-size="16.9">Konzentration SeIV</text>
<text transform="translate(427.2,693.62) scale(1.0194,1)" font-size="14.2">gelöst</text>
<text transform="translate(1.2,10.9)" font-size="16.5" font-weight="bold">a</text>
<text transform="translate(0.9,331.78)" font-size="16.5" font-weight="bold">b</text>
<text transform="translate(12.51,228.1) rotate(-90)" font-size="16.3">volatiles Organoselen</text>
<text transform="translate(33.05,188.3) rotate(-90)" font-size="16.82">als Se [ng]</text>
<text transform="translate(15.11,555.9) rotate(-90)" font-size="16.3">volatiles Organoselen</text>
<text transform="translate(35.85,513) rotate(-90)" font-size="16.17">als Se [ng]</text>
</g>
</svg>
</body></html>
